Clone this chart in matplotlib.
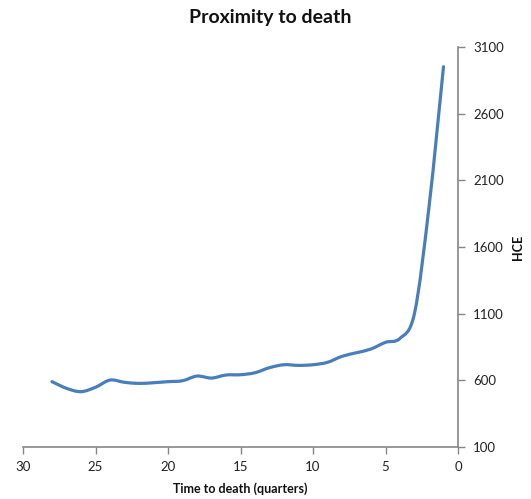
import matplotlib
matplotlib.use('Agg')
import matplotlib.pyplot as plt
from matplotlib.path import Path
from matplotlib.patches import PathPatch

plt.rcParams['font.family'] = ['Lato', 'DejaVu Sans']

# quarters before death and HCE values
quarters = [28, 27, 26, 25, 24, 23, 22, 21, 20, 19, 18, 17, 16, 15,
            14, 13, 12, 11, 10, 9, 8, 7, 6, 5, 4, 3, 2, 1]
hce = [590, 540, 515, 548, 602, 585, 577, 582, 590, 597, 632, 617, 640, 642,
       657, 695, 717, 712, 717, 735, 780, 807, 835, 885, 915, 1103, 1900, 2952]

x_ticks = [30, 25, 20, 15, 10, 5, 0]
y_ticks = [100, 600, 1100, 1600, 2100, 2600, 3100]

line_color = '#4a7ebb'
axis_color = '#868686'


# Excel-style smoothed line: cubic Bezier through each point
def smooth_path(xs, ys):
    pts = list(zip(xs, ys))
    verts = [pts[0]]
    codes = [Path.MOVETO]
    n = len(pts)
    for i in range(n - 1):
        p0 = pts[i - 1] if i > 0 else pts[i]
        p1 = pts[i]
        p2 = pts[i + 1]
        p3 = pts[i + 2] if i + 2 < n else pts[i + 1]
        c1 = (p1[0] + (p2[0] - p0[0]) / 6, p1[1] + (p2[1] - p0[1]) / 6)
        c2 = (p2[0] - (p3[0] - p1[0]) / 6, p2[1] - (p3[1] - p1[1]) / 6)
        verts += [c1, c2, p2]
        codes += [Path.CURVE4] * 3
    return Path(verts, codes)


fig = plt.figure(figsize=(5.31, 4.99), dpi=100)
ax = fig.add_axes([23 / 531, 1 - 447 / 499, 435 / 531, 400 / 499])

ax.add_patch(PathPatch(smooth_path(quarters, hce), facecolor='none',
                       edgecolor=line_color, linewidth=2.3,
                       joinstyle='round', capstyle='round'))

ax.set_xlim(30, 0)
ax.set_ylim(100, 3100)
ax.set_xticks(x_ticks)
ax.set_yticks(y_ticks)

ax.yaxis.tick_right()
ax.yaxis.set_label_position('right')

for side in ['top', 'left']:
    ax.spines[side].set_visible(False)
for side in ['bottom', 'right']:
    ax.spines[side].set_color(axis_color)
    ax.spines[side].set_linewidth(1.2)

ax.tick_params(axis='both', colors=axis_color, length=5, width=1,
               labelcolor='#222222', labelsize=9.5)
ax.tick_params(axis='x', pad=5)
ax.tick_params(axis='y', pad=6)

ax.set_xlabel('Time to death (quarters)', fontsize=9, fontweight='bold',
              color='#111111', labelpad=7)
ax.set_ylabel('HCE', fontsize=9, fontweight='bold', color='#111111',
              labelpad=6)
fig.text(0.509, 1 - 17 / 499, 'Proximity to death', fontsize=14,
         fontweight='bold', color='#111111', ha='center', va='center')

fig.savefig('out.png', dpi=100, facecolor='white')
